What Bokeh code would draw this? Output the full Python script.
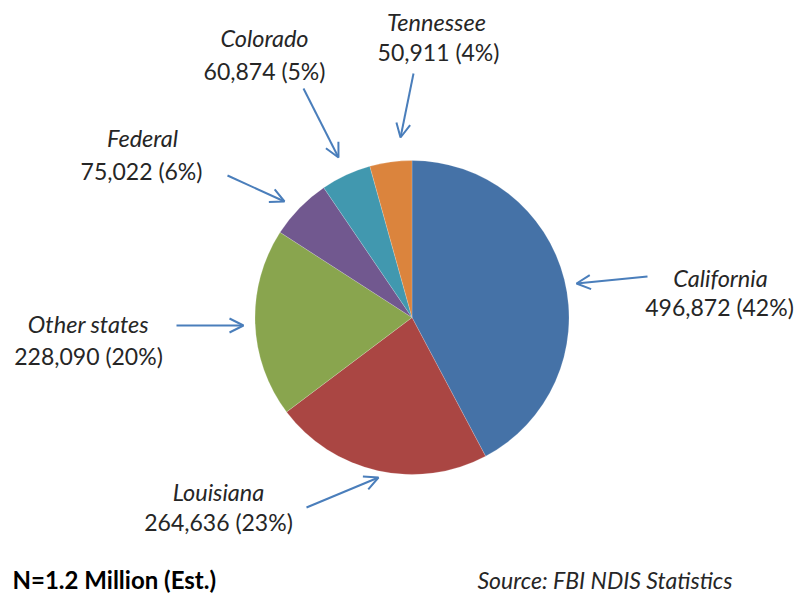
import math
from bokeh.plotting import figure
from bokeh.models import Range1d, Label, Arrow, OpenHead
from bokeh.embed import file_html
from bokeh.resources import INLINE

# ---- data ----
states = ["California", "Louisiana", "Other states", "Federal", "Colorado", "Tennessee"]
counts = [496872, 264636, 228090, 75022, 60874, 50911]
percents = [42, 23, 20, 6, 5, 4]
colors = ["#4572A7", "#AA4643", "#89A54E", "#71588F", "#4198AF", "#DB843D"]
footer_left = "N=1.2 Million (Est.)"
footer_right = "Source: FBI NDIS Statistics"

# ---- layout (reference pixel coords, y down) ----
W, H = 797, 594
cx, cy, R = 411.5, 317, 157
label_pos = {  # name center, value center
    "California": ((720, 277), (719, 306)),
    "Louisiana": ((218, 491), (218, 521)),
    "Other states": ((88, 323), (88, 355)),
    "Federal": ((142, 137), (141, 170)),
    "Colorado": ((264, 37), (264, 70)),
    "Tennessee": ((436, 21), (438, 51)),
}
arrow_pos = {
    "California": ((647, 276), (576, 283)),
    "Louisiana": ((306, 507), (378, 477)),
    "Other states": ((176, 325), (243, 325)),
    "Federal": ((227, 175), (284, 201)),
    "Colorado": ((303, 88), (338, 157)),
    "Tennessee": ((413, 73), (400, 137)),
}

def Y(y):
    return H - y

p = figure(width=W, height=H, output_backend="svg", toolbar_location=None,
           x_range=Range1d(0, W), y_range=Range1d(0, H),
           min_border=0)
p.axis.visible = False
p.grid.visible = False
p.outline_line_color = None
p.background_fill_color = "white"
p.border_fill_color = "white"

total = sum(counts)
cum = 0.0
starts, ends = [], []
for c in counts:
    a0 = cum / total
    cum += c
    a1 = cum / total
    starts.append(math.pi / 2 - 2 * math.pi * a1)
    ends.append(math.pi / 2 - 2 * math.pi * a0)

p.wedge(x=[cx] * len(counts), y=[Y(cy)] * len(counts), radius=R,
        start_angle=starts, end_angle=ends, fill_color=colors,
        line_color="white", line_width=0.5, line_alpha=0.35)

FONT = "Lato"
TXT = "#262626"
for s, c, pc in zip(states, counts, percents):
    (nx, ny), (vx, vy) = label_pos[s]
    p.add_layout(Label(x=nx, y=Y(ny), text=s, text_font=FONT, text_font_size="23.5px",
                       text_font_style="italic", text_color=TXT,
                       text_align="center", text_baseline="middle"))
    p.add_layout(Label(x=vx, y=Y(vy), text=f"{c:,} ({pc}%)", text_font=FONT,
                       text_font_size="23px", text_color=TXT,
                       text_align="center", text_baseline="middle"))
    (x0, y0), (x1, y1) = arrow_pos[s]
    p.add_layout(Arrow(x_start=x0, y_start=Y(y0), x_end=x1, y_end=Y(y1),
                       line_color="#4A7EBB", line_width=2,
                       end=OpenHead(size=14, line_color="#4A7EBB", line_width=2)))

p.add_layout(Label(x=12, y=Y(579), text=footer_left, text_font=FONT, text_font_size="24px",
                   text_font_style="bold", text_color="black",
                   text_align="left", text_baseline="middle"))
p.add_layout(Label(x=477, y=Y(579), text=footer_right, text_font=FONT, text_font_size="23px",
                   text_font_style="italic", text_color=TXT,
                   text_align="left", text_baseline="middle"))

open("out.html", "w").write(file_html(p, INLINE))
